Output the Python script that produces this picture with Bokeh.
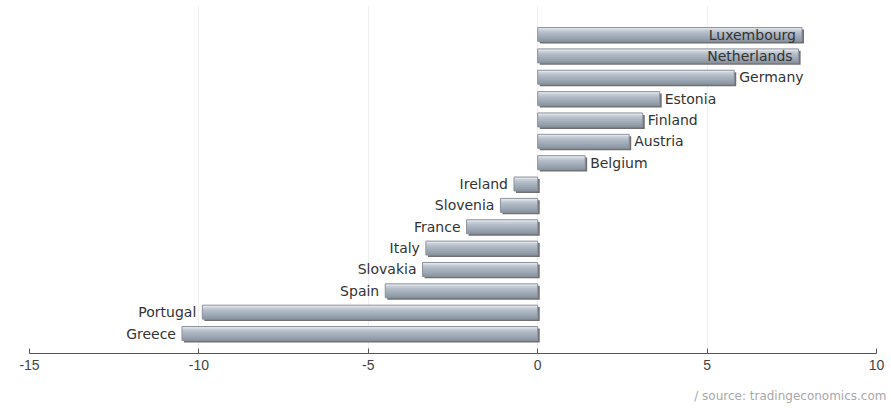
from bokeh.plotting import figure
from bokeh.models import ColumnDataSource, Range1d, FixedTicker, Title
from bokeh.transform import dodge
from bokeh.core.properties import value
from bokeh.embed import file_html
from bokeh.resources import INLINE

countries = ["Luxembourg", "Netherlands", "Germany", "Estonia", "Finland", "Austria",
             "Belgium", "Ireland", "Slovenia", "France", "Italy", "Slovakia",
             "Spain", "Portugal", "Greece"]
values = [7.8, 7.7, 5.8, 3.6, 3.1, 2.7, 1.4, -0.7, -1.1, -2.1, -3.3, -3.4, -4.5, -9.9, -10.5]
x_ticks = [-15, -10, -5, 0, 5, 10]
source_note = "/ source: tradingeconomics.com"

n = len(countries)
pos = [n - 1 - i for i in range(n)]
left = [min(0, v) for v in values]
right = [max(0, v) for v in values]

inside = [v > 7 for v in values]
align = ["right" if ins else ("left" if v >= 0 else "right") for v, ins in zip(values, inside)]
xoff = [-6 if ins else (5 if v >= 0 else -6) for v, ins in zip(values, inside)]

src = ColumnDataSource(dict(country=countries, val=values, y=pos, left=left, right=right,
                            align=align, xoff=xoff))

p = figure(width=891, height=408, output_backend="svg", toolbar_location=None,
           x_range=Range1d(-15, 10), y_range=Range1d(-0.936, 15.36),
           y_axis_type=None, min_border_left=29, min_border_right=15,
           min_border_top=5, min_border_bottom=55)
p.outline_line_color = None
p.background_fill_color = "white"
p.border_fill_color = "white"
p.ygrid.grid_line_color = None
p.xgrid.grid_line_color = "#efefef"
p.xaxis.ticker = FixedTicker(ticks=x_ticks)
p.xaxis.major_label_overrides = {t: str(t) for t in x_ticks}
p.xaxis.axis_line_color = "#555555"
p.xaxis.major_tick_line_color = "#555555"
p.xaxis.minor_tick_line_color = None
p.xaxis.major_tick_in = 5
p.xaxis.major_tick_out = 0
p.xaxis.major_label_standoff = 6
p.xaxis.major_label_text_font = "Liberation Sans"
p.xaxis.major_label_text_font_size = "14px"
p.xaxis.major_label_text_color = "#444444"
p.xaxis.axis_label = " "
p.xaxis.axis_label_text_font_size = "6px"
p.xaxis.axis_label_standoff = 0

bh = 0.655
# shadow
p.hbar(y=dodge("y", -0.09, range=p.y_range), left=dodge("left", 0.06, range=p.x_range),
       right=dodge("right", 0.06, range=p.x_range), height=bh, source=src,
       fill_color="#707070", line_color=None)
# gradient strips (drawn top to bottom, overlapping)
colors = ["#dfe4ea", "#c4ccd5", "#b4bdc8", "#aab4c0", "#a1abb8", "#97a2af", "#8d98a6"]
k = len(colors)
sh = bh / k
for j, c in enumerate(colors):
    top = bh / 2 - sh * j
    hh = sh if j == k - 1 else sh * 1.6
    p.hbar(y=dodge("y", top - hh / 2, range=p.y_range), left="left", right="right",
           height=hh, source=src, fill_color=c, line_color=None)
p.hbar(y="y", left="left", right="right", height=bh, source=src,
       fill_color=None, line_color="#8c939c", line_width=1)

p.text(x="val", y="y", text="country", source=src, text_align="align",
       text_baseline="middle", x_offset="xoff", text_font=value("DejaVu Sans"),
       text_font_size="14px", text_color="#333333")

note = Title(text=source_note, align="right", text_font="DejaVu Sans",
             text_font_size="12px", text_font_style="normal", text_color="#a8a8a8",
             offset=-10)
p.add_layout(note, "below")

open("out.html", "w").write(file_html(p, INLINE))
